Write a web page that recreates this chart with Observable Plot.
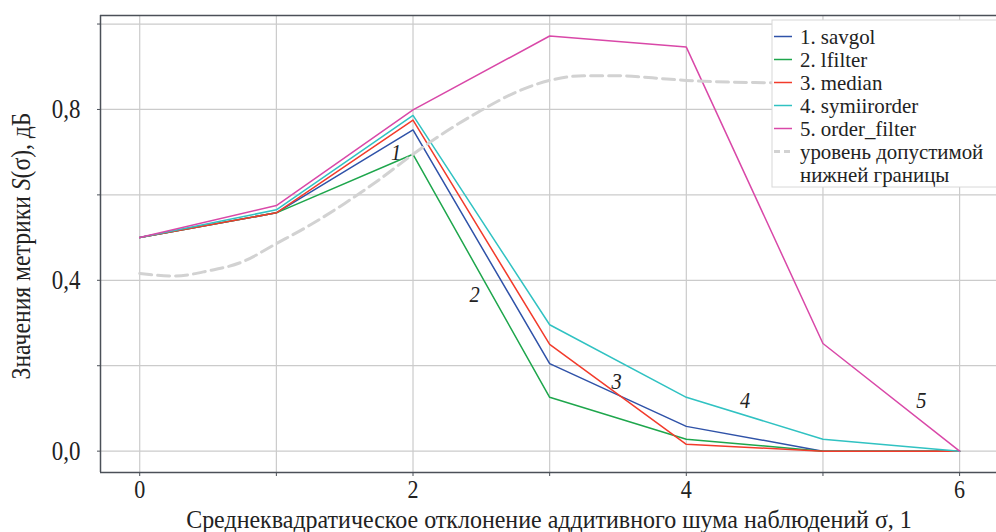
<!DOCTYPE html>
<html><head><meta charset="utf-8">
<script src="https://cdn.jsdelivr.net/npm/d3@7"></script>
<script src="https://cdn.jsdelivr.net/npm/@observablehq/plot@0.6"></script>
<style>
html,body{margin:0;padding:0;background:#fff;}
#chart{width:996px;height:532px;overflow:hidden;}
svg text{font-family:"Liberation Serif","Times New Roman",serif;}
</style></head><body><div id="chart"></div>
<script>
// ---- data ----
const sigma = [0, 1, 2, 3, 4, 5, 6];
const seriesNames = ["1. savgol", "2. lfilter", "3. median", "4. symiirorder", "5. order_filter"];
const savgol      = [0.500, 0.558, 0.752, 0.205, 0.058, 0.000, 0.000];
const lfilter     = [0.500, 0.558, 0.695, 0.126, 0.028, 0.000, 0.000];
const median      = [0.500, 0.558, 0.775, 0.250, 0.016, 0.000, 0.000];
const symiirorder = [0.500, 0.565, 0.786, 0.296, 0.126, 0.028, 0.000];
const orderFilter = [0.500, 0.575, 0.799, 0.972, 0.946, 0.252, 0.000];
const boundName = "уровень допустимой\nнижней границы";
const boundX = [0, 0.25, 0.5, 0.75, 1, 1.25, 1.5, 1.75, 2, 2.25, 2.5, 2.75, 3, 3.25, 3.5, 3.75, 4, 4.5, 5, 5.5, 6];
const boundY = [0.416, 0.410, 0.422, 0.443, 0.486, 0.530, 0.580, 0.635, 0.695, 0.750, 0.798, 0.840, 0.868, 0.879, 0.879, 0.874, 0.868, 0.863, 0.862, 0.862, 0.862];
const xTicks = [0, 1, 2, 3, 4, 5, 6];
const xTickLabels = [0, 2, 4, 6];
const yTicks = [0, 0.2, 0.4, 0.6, 0.8, 1.0];
const yTickLabels = ["0,0", "0,4", "0,8"];
const curveLabels = ["1", "2", "3", "4", "5"];
const curveLabelX = [1.876, 2.45, 3.49, 4.43, 5.72];
const curveLabelY = [0.700, 0.368, 0.163, 0.120, 0.120];
const xTitle = "Среднеквадратическое отклонение аддитивного шума наблюдений σ, 1";
const yTitleParts = ["Значения метрики ", "S", "(σ), дБ"];

// ---- build tables ----
const seriesValues = [savgol, lfilter, median, symiirorder, orderFilter];
const colors = ["#2f52a8", "#1ea64c", "#f23b2b", "#30c2c2", "#d948a8"];
const rows = seriesNames.flatMap((name, i) => sigma.map((s, j) => ({series: name, x: s, y: seriesValues[i][j]})));
const boundRows = boundX.map((x, i) => ({x, y: boundY[i]}));
const labelRows = curveLabels.map((t, i) => ({t, x: curveLabelX[i], y: curveLabelY[i]}));

const xDomain = [-0.287, 6.27];
const yDomain = [-0.05, 1.02];
const spine = "#4b5058";
const grid = "#cbcbcb";
const ink = "#222";

const chart = Plot.plot({
  width: 996, height: 532,
  marginLeft: 100, marginRight: 0, marginTop: 15, marginBottom: 60,
  x: {domain: xDomain, axis: null},
  y: {domain: yDomain, axis: null},
  color: {domain: seriesNames, range: colors},
  style: {fontFamily: '"Liberation Serif", serif', background: "white", overflow: "visible"},
  marks: [
    Plot.ruleX(xTicks, {stroke: grid, strokeWidth: 1.2}),
    Plot.ruleY(yTicks, {stroke: grid, strokeWidth: 1.2}),
    Plot.line(rows, {x: "x", y: "y", z: "series", stroke: "series", strokeWidth: 1.5}),
    Plot.line(boundRows, {x: "x", y: "y", stroke: "#d2d2d2", strokeWidth: 3, strokeDasharray: "12,6", curve: "monotone-x"}),
    Plot.text(labelRows, {x: "x", y: "y", text: "t", fontSize: 24, fontStyle: "italic", fill: ink}),
    Plot.axisX({ticks: xTicks, tickFormat: d => xTickLabels.includes(d) ? String(d) : "", label: null, tickSize: 4, tickPadding: 3, fontSize: 26, stroke: spine, color: ink}),
    Plot.axisY({ticks: yTicks, tickFormat: d => { const k = Math.round(d * 10); return k % 4 === 0 ? yTickLabels[k / 4] : ""; }, label: null, tickSize: 3, tickPadding: 17, fontSize: 27, stroke: spine, color: ink}),
    Plot.ruleX([xDomain[0]], {stroke: spine, strokeWidth: 1.5}),
    Plot.ruleY([yDomain[0]], {stroke: spine, strokeWidth: 1.5}),
    Plot.ruleY([yDomain[1]], {stroke: spine, strokeWidth: 1.5})
  ]
});
document.getElementById("chart").appendChild(chart);

// horizontally condense a text around its anchor point (the reference type is narrow)
function squeeze(el, k) {
  const x = +el.getAttribute("x") || 0, y = +el.getAttribute("y") || 0;
  const t = el.getAttribute("transform") || "";
  el.setAttribute("transform", `${t} translate(${x},${y}) scale(${k},1) translate(${-x},${-y})`);
}
const svg = d3.select(chart);
svg.selectAll("text").each(function() { squeeze(this, 0.85); });

// axis titles
const xt = svg.append("text")
  .attr("x", 549).attr("y", 528)
  .attr("text-anchor", "middle")
  .attr("font-size", 26).attr("fill", ink)
  .text(xTitle);
squeeze(xt.node(), 726 / xt.node().getComputedTextLength());

const yl = svg.append("text")
  .attr("transform", "translate(30,246) rotate(-90)")
  .attr("text-anchor", "middle")
  .attr("font-size", 27).attr("fill", ink);
yTitleParts.forEach((p, i) => yl.append("tspan").attr("font-style", i === 1 ? "italic" : null).text(p));
squeeze(yl.node(), 267 / yl.node().getComputedTextLength());

// legend
const lg = svg.append("g").attr("transform", "translate(772,20)");
lg.append("rect").attr("x", 0).attr("y", 0).attr("width", 240).attr("height", 167)
  .attr("fill", "white").attr("stroke", "#d8d8d8").attr("stroke-width", 1);
const items = seriesNames.map((n, i) => ({label: n, color: colors[i], dash: null}));
items.push({label: boundName, color: "#d2d2d2", dash: "6,4"});
items.forEach((it, i) => {
  const cy = 16.5 + i * 23;
  lg.append("line").attr("x1", 2).attr("x2", 20).attr("y1", cy).attr("y2", cy)
    .attr("stroke", it.color).attr("stroke-width", it.dash ? 3 : 1.5)
    .attr("stroke-dasharray", it.dash);
  it.label.split("\n").forEach((t, k) => {
    const tx = lg.append("text").attr("x", 28).attr("y", cy + k * 23).attr("dy", "0.33em")
      .attr("text-anchor", "start")
      .attr("font-size", 22).attr("fill", ink).text(t);
    it.nodes = (it.nodes || []).concat(tx.node());
  });
});
const legendK = 116 / items[4].nodes[0].getComputedTextLength();
items.forEach(it => it.nodes.forEach(n => squeeze(n, legendK)));
</script></body></html>
